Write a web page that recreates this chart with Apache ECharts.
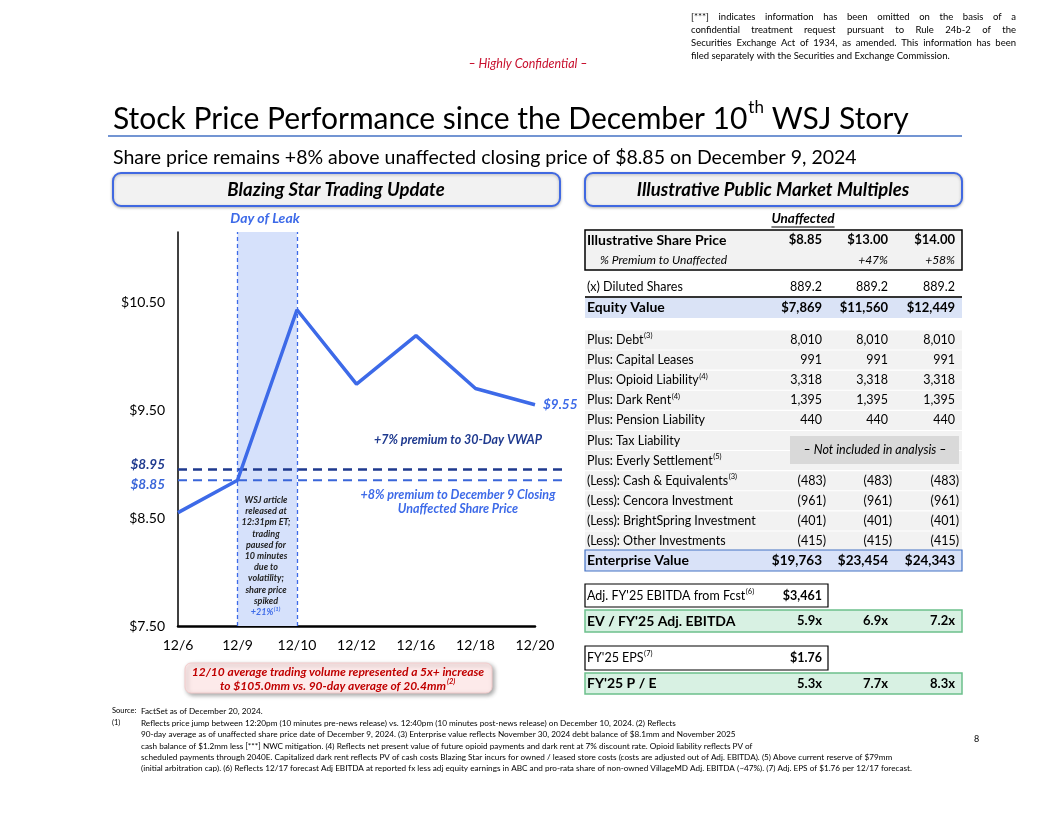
<!DOCTYPE html>
<html><head><meta charset="utf-8">
<script src="https://cdn.jsdelivr.net/npm/echarts@6/dist/echarts.min.js"></script>
<style>html,body{margin:0;padding:0;background:#fff}#c{width:1056px;height:816px}</style>
</head><body><div id="c"></div>
<script>
// ---------------- DATA ----------------
const categories = ['12/6','12/9','12/10','12/12','12/16','12/18','12/20'];
const prices = [8.55, 8.85, 10.43, 9.74, 10.19, 9.70, 9.55];
const vwapLevel = 8.95;
const unaffectedLevel = 8.85;
const yMin = 7.5, yMax = 11.15, yStep = 1;
const leakStart = '12/9', leakEnd = '12/10';

const priceCols = ['$8.85','$13.00','$14.00'];
const premiumCols = ['','+47%','+58%'];
const dilutedShares = ['889.2','889.2','889.2'];
const equityValues = ['$7,869','$11,560','$12,449'];
const bridgeLabels = [['Plus: Debt','(3)'],['Plus: Capital Leases',''],['Plus: Opioid Liability','(4)'],['Plus: Dark Rent','(4)'],['Plus: Pension Liability',''],['Plus: Tax Liability',''],['Plus: Everly Settlement','(5)'],['(Less): Cash & Equivalents','(3)'],['(Less): Cencora Investment',''],['(Less): BrightSpring Investment',''],['(Less): Other Investments','']];
const bridgeValues = [['8,010','8,010','8,010'],['991','991','991'],['3,318','3,318','3,318'],['1,395','1,395','1,395'],['440','440','440'],null,null,['(483)','(483)','(483)'],['(961)','(961)','(961)'],['(401)','(401)','(401)'],['(415)','(415)','(415)']];
const enterpriseValues = ['$19,763','$23,454','$24,343'];
const ebitda = '$3,461';
const evEbitda = ['5.9x','6.9x','7.2x'];
const eps = '$1.76';
const peMultiples = ['5.3x','7.7x','8.3x'];

const wsjNote = ['WSJ article','released at','12:31pm ET;','trading','paused for','10 minutes','due to','volatility;','share price','spiked'];
const disclaimer = ['[***] indicates information has been omitted on the basis of a','confidential treatment request pursuant to Rule 24b-2 of the','Securities Exchange Act of 1934, as amended. This information has been','filed separately with the Securities and Exchange Commission.'];
const footnotes = [
 ['Source:','FactSet as of December 20, 2024.'],
 ['(1)','Reflects price jump between 12:20pm (10 minutes pre-news release) vs. 12:40pm (10 minutes post-news release) on December 10, 2024. (2) Reflects'],
 ['','90-day average as of unaffected share price date of December 9, 2024. (3) Enterprise value reflects November 30, 2024 debt balance of $8.1mm and November 2025'],
 ['','cash balance of $1.2mm less [***] NWC mitigation. (4) Reflects net present value of future opioid payments and dark rent at 7% discount rate. Opioid liability reflects PV of'],
 ['','scheduled payments through 2040E. Capitalized dark rent reflects PV of cash costs Blazing Star incurs for owned / leased store costs (costs are adjusted out of Adj. EBITDA). (5) Above current reserve of $79mm'],
 ['','(initial arbitration cap). (6) Reflects 12/17 forecast Adj EBITDA at reported fx less adj equity earnings in ABC and pro-rata share of non-owned VillageMD Adj. EBITDA (~47%). (7) Adj. EPS of $1.76 per 12/17 forecast.']
];

// ---------------- HELPERS ----------------
const FONT = 'Lato';
const BLUE = '#3d6ae8', NAVY = '#1f3a8f';
const mctx = document.createElement('canvas').getContext('2d');
function measure(t, size, bold, italic){ mctx.font = (italic?'italic ':'')+(bold?'bold ':'')+size+'px '+FONT; return mctx.measureText(t).width; }
function txt(x, y, text, o){ o = o||{}; return {type:'text', x:x, y:y, silent:true, z:o.z||10, style:{text:text, fill:o.color||'#000', fontSize:o.size||12, fontFamily:FONT, fontWeight:o.bold?'bold':'normal', fontStyle:o.italic?'italic':'normal', align:o.align||'left', verticalAlign:o.va||'middle'}}; }
function rect(x, y, w, h, o){ o=o||{}; return {type:'rect', silent:true, z:o.z||5, shape:{x:x,y:y,width:w,height:h,r:o.r||0}, style:{fill:o.fill||'none', stroke:o.stroke||null, lineWidth:o.lw||1, shadowBlur:o.sb||0, shadowColor:o.sc||'transparent', shadowOffsetX:o.sx||0, shadowOffsetY:o.sy||0}}; }
function line(x1,y1,x2,y2,o){ o=o||{}; return {type:'line', silent:true, z:o.z||6, shape:{x1:x1,y1:y1,x2:x2,y2:y2}, style:{stroke:o.color||'#000', lineWidth:o.lw||1}}; }
function withSup(x, y, label, sup, o){ o=o||{}; const els=[txt(x,y,label,o)]; if(sup){ const w=measure(label,o.size||12,o.bold,o.italic); els.push(txt(x+w+0.5,y-4,sup,Object.assign({},o,{size:7.5}))); } return els; }

const G = [];
// header
G.push(txt(528,64,'– Highly Confidential –',{size:12.5,italic:true,color:'#c8102e',align:'center'}));
const dL=691, dR=1016, dYs=[17,30,43,56];
disclaimer.forEach((ln,i)=>{
  const size=9.5;
  if(i===disclaimer.length-1){ G.push(txt(dL,dYs[i],ln,{size:size})); return; }
  const words=ln.split(' '); const ws=words.map(w=>measure(w,size)); const tot=ws.reduce((a,b)=>a+b,0);
  const gap=(dR-dL-tot)/(words.length-1); let x=dL;
  words.forEach((w,j)=>{ G.push(txt(x,dYs[i],w,{size:size})); x+=ws[j]+gap; });
});
// title
const tSize=30, t1='Stock Price Performance since the December 10', t2=' WSJ Story';
const w1=measure(t1,tSize); const wth=measure('th',17);
G.push(txt(113,119,t1,{size:tSize}));
G.push(txt(113+w1+1,108,'th',{size:17}));
G.push(txt(113+w1+wth+1,119,t2,{size:tSize}));
G.push(line(108,136,962,136,{color:'#4472c4',lw:1.5}));
G.push(txt(113,158,'Share price remains +8% above unaffected closing price of $8.85 on December 9, 2024',{size:19.5}));
// section boxes
G.push(rect(113,173,447,33,{r:8,fill:'#f2f2f2',stroke:'#4169e1',lw:2,sb:3,sc:'rgba(0,0,0,0.25)',sy:1}));
G.push(txt(336,190,'Blazing Star Trading Update',{size:18.5,bold:true,italic:true,align:'center'}));
G.push(rect(585,173,377,33,{r:8,fill:'#f2f2f2',stroke:'#4169e1',lw:2,sb:3,sc:'rgba(0,0,0,0.25)',sy:1}));
G.push(txt(773,190,'Illustrative Public Market Multiples',{size:18.5,bold:true,italic:true,align:'center'}));

// chart annotations
G.push(txt(265,218,'Day of Leak',{size:14,bold:true,italic:true,color:BLUE,align:'center'}));
G.push(txt(458,440,'+7% premium to 30-Day VWAP',{size:12.5,bold:true,italic:true,color:NAVY,align:'center'}));
G.push(txt(458,495,'+8% premium to December 9 Closing',{size:12.5,bold:true,italic:true,color:BLUE,align:'center'}));
G.push(txt(458,509,'Unaffected Share Price',{size:12.5,bold:true,italic:true,color:BLUE,align:'center'}));
wsjNote.forEach((t,i)=>G.push(txt(266,500+i*11.2,t,{size:9,bold:true,italic:true,color:'#222',align:'center',z:20})));
(function(){ const y=500+wsjNote.length*11.2; const w=measure('+21%',9,true,true); G.push(txt(266-4,y,'+21%',{size:9,bold:true,italic:true,color:BLUE,align:'center',z:20})); G.push(txt(266-4+w/2+0.5,y-3,'(1)',{size:6,bold:true,italic:true,color:BLUE,z:20})); })();
// red callout
G.push(rect(185,663,307,30,{r:6,fill:'#fdeaea',stroke:'#f3cccc',lw:1,sb:4,sc:'rgba(0,0,0,0.35)',sx:2,sy:2}));
G.push(txt(338,672,'12/10 average trading volume represented a 5x+ increase',{size:12,bold:true,italic:true,color:'#c00000',align:'center'}));
(function(){ const s='to $105.0mm vs. 90-day average of 20.4mm'; const w=measure(s,12,true,true); const x0=338-(w+10)/2; G.push(txt(x0,686,s,{size:12,bold:true,italic:true,color:'#c00000'})); G.push(txt(x0+w+1,682,'(2)',{size:7.5,bold:true,italic:true,color:'#c00000'})); })();

// ---------------- TABLE ----------------
const colX=[822,888,955];
function vals(y, arr, o){ arr.forEach((v,i)=>{ if(!v) return; const hang=v.charAt(0)==='('?4:0; G.push(txt(colX[i]+hang,y,v,Object.assign({align:'right'},o||{}))); }); }
const TS=12.5, TB=14;
(function(){ const w=measure('Unaffected',13.5,true,true); G.push(txt(803,219,'Unaffected',{size:13.5,bold:true,italic:true,align:'center'})); G.push(line(803-w/2,227,803+w/2,227,{lw:1})); })();
G.push(rect(585,230,377,40,{fill:'#f2f2f2',stroke:'#000',lw:1.5}));
G.push(txt(587,240,'Illustrative Share Price',{size:TB,bold:true})); vals(240,priceCols,{size:13,bold:true});
G.push(txt(600,260,'% Premium to Unaffected',{size:TS-0.5,italic:true})); vals(260,premiumCols,{size:TS-0.5,italic:true});
G.push(txt(587,287,'(x) Diluted Shares',{size:TS})); vals(287,dilutedShares,{size:TS});
G.push(rect(585,297,377,21,{fill:'#dae3f6'}));
G.push(line(585,297,962,297,{color:'#333',lw:2}));
G.push(txt(587,307.5,'Equity Value',{size:TB,bold:true})); vals(307.5,equityValues,{size:13,bold:true});
bridgeLabels.forEach((lb,i)=>{
  const y=340+i*20.1;
  G.push(rect(585,y-9.5,377,19,{fill:'#f2f2f2',z:2}));
  withSup(587,y,lb[0],lb[1],{size:TS}).forEach(e=>G.push(e));
  if(bridgeValues[i]) vals(y,bridgeValues[i],{size:TS});
});
G.push(rect(790,436,169,28,{fill:'#d9d9d9',z:4}));
G.push(txt(875,449.5,'– Not included in analysis –',{size:TS,italic:true,align:'center'}));
G.push(rect(585,550,377,21,{fill:'#d9e2f8',stroke:'#4472c4',lw:1.2}));
G.push(txt(587,560.5,'Enterprise Value',{size:TB,bold:true})); vals(560.5,enterpriseValues,{size:13.5,bold:true});
G.push(rect(585,584,243,23,{fill:'#fff',stroke:'#000',lw:1.2}));
withSup(587,595.5,"Adj. FY'25 EBITDA from Fcst",'(6)',{size:TS}).forEach(e=>G.push(e));
G.push(txt(822,595.5,ebitda,{size:TS,bold:true,align:'right'}));
G.push(rect(585,610,377,22,{fill:'#d8f1e3',stroke:'#6cc08c',lw:1.5}));
G.push(txt(587,621,"EV / FY'25 Adj. EBITDA",{size:TB,bold:true})); vals(621,evEbitda,{size:13,bold:true});
G.push(rect(585,646,243,24,{fill:'#fff',stroke:'#000',lw:1.2}));
withSup(587,657.5,"FY'25 EPS",'(7)',{size:TS}).forEach(e=>G.push(e));
G.push(txt(822,657.5,eps,{size:TS,bold:true,align:'right'}));
G.push(rect(585,673,377,21,{fill:'#d8f1e3',stroke:'#6cc08c',lw:1.5}));
G.push(txt(587,683.5,"FY'25 P / E",{size:TB,bold:true})); vals(683.5,peMultiples,{size:13,bold:true});

// footnotes
footnotes.forEach((f,i)=>{ const y=[711,723,734.5,746,757,768][i]; if(f[0]) G.push(txt(112,y,f[0],{size:7.5})); G.push(txt(141,y,f[1],{size:8.2})); });
G.push(txt(974,739,'8',{size:9}));

// ---------------- CHART ----------------
const chart = echarts.init(document.getElementById('c'), null, {renderer:'canvas'});
const labelFmt = v => (v > yMax - 0.2) ? '' : '$' + v.toFixed(2);
const refLabel = (val, color, dy) => ({show:true, position:'left', distance:13, offset:[0,dy], formatter:'$'+val.toFixed(2), color:color, fontSize:13.5, fontWeight:'bold', fontStyle:'italic', fontFamily:FONT});
chart.setOption({
  animation:false,
  backgroundColor:'#fff',
  grid:[{left:178, right:521, top:232, bottom:190},{left:178, right:494, top:232, bottom:190}],
  xAxis:[
    {type:'category', gridIndex:0, data:categories, boundaryGap:false,
     axisLine:{lineStyle:{color:'#000',width:2.5}}, axisTick:{show:false},
     axisLabel:{color:'#000', fontSize:14, fontFamily:FONT, margin:12}},
    {type:'value', gridIndex:1, min:0, max:1, show:false}
  ],
  yAxis:[
    {type:'value', gridIndex:0, min:yMin, max:yMax, interval:yStep,
     axisLine:{show:true, lineStyle:{color:'#000',width:1.5}}, axisTick:{show:false}, splitLine:{show:false},
     axisLabel:{color:'#000', fontSize:14, fontFamily:FONT, margin:13, formatter:labelFmt}},
    {type:'value', gridIndex:1, min:yMin, max:yMax, show:false}
  ],
  series:[
    {type:'line', xAxisIndex:0, yAxisIndex:0, data:prices, symbol:'none', z:5,
     lineStyle:{color:BLUE, width:3.5}, itemStyle:{color:BLUE},
     endLabel:{show:true, formatter:p=>'$'+p.value.toFixed(2), color:BLUE, fontSize:13.5, fontWeight:'bold', fontStyle:'italic', fontFamily:FONT, distance:8},
     markArea:{silent:true, itemStyle:{color:'#d6e1fb'}, data:[[{xAxis:leakStart},{xAxis:leakEnd}]]},
     markLine:{silent:true, symbol:'none', label:{show:false}, lineStyle:{color:BLUE, width:1.3, type:[4,3]},
       data:[{xAxis:leakStart},{xAxis:leakEnd}]}
    },
    {type:'line', xAxisIndex:1, yAxisIndex:1, symbol:'circle', symbolSize:0, z:4,
     lineStyle:{color:NAVY, width:2.5, type:[9,6]}, itemStyle:{color:NAVY},
     data:[{value:[0,vwapLevel], label:refLabel(vwapLevel, NAVY, -5)},[1,vwapLevel]]},
    {type:'line', xAxisIndex:1, yAxisIndex:1, symbol:'circle', symbolSize:0, z:4,
     lineStyle:{color:'#3a66d9', width:2, type:[9,6]}, itemStyle:{color:'#3a66d9'},
     data:[{value:[0,unaffectedLevel], label:refLabel(unaffectedLevel, '#3a66d9', 4)},[1,unaffectedLevel]]}
  ],
  graphic:{elements:G}
});
</script></body></html>
